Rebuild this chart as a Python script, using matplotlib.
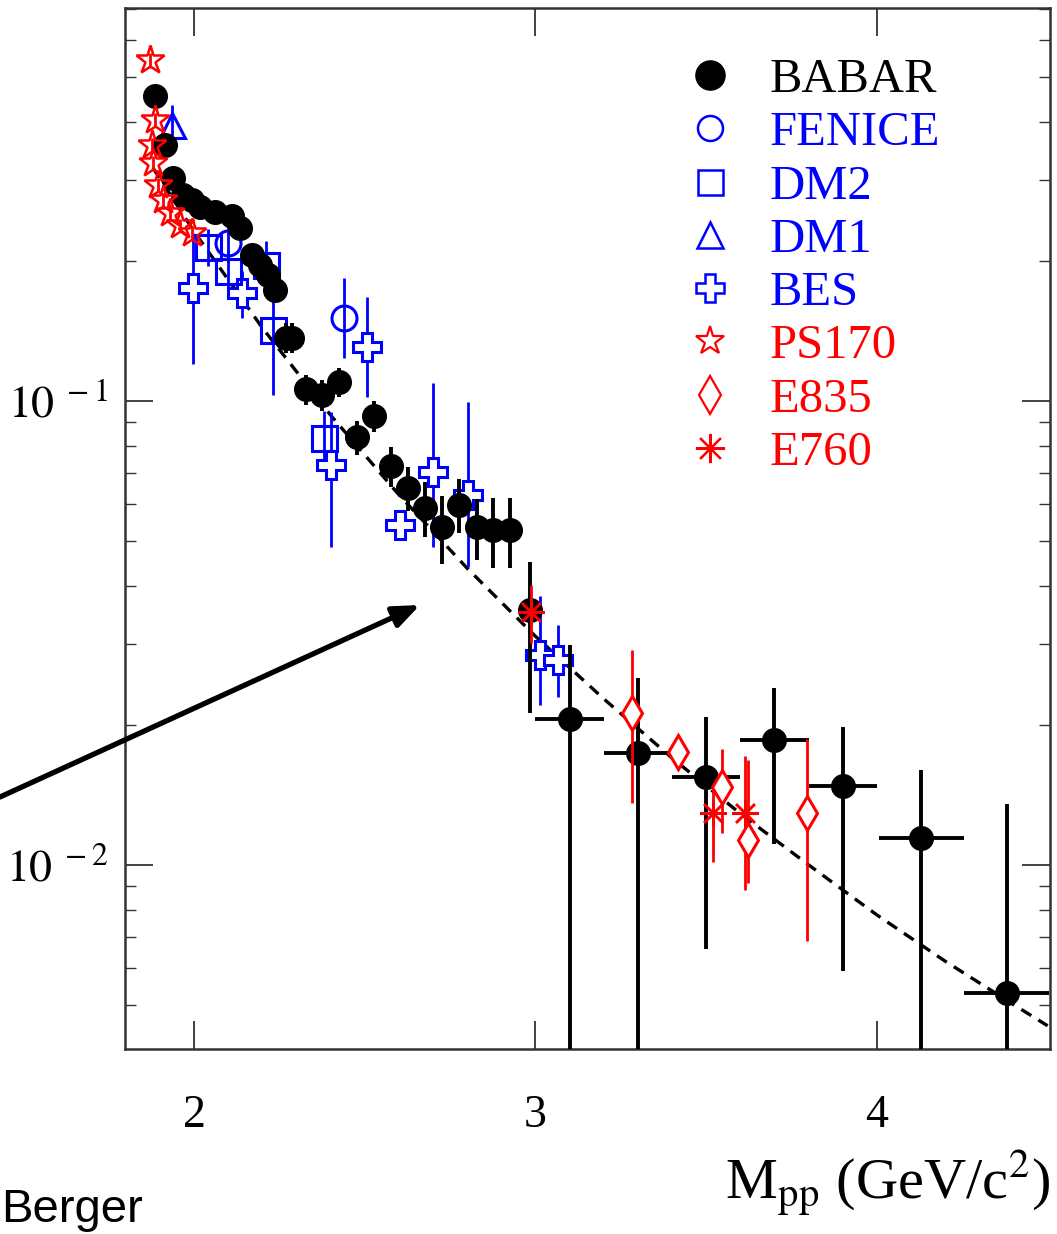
import matplotlib
matplotlib.use("Agg")
import matplotlib.pyplot as plt
from matplotlib.lines import Line2D
import numpy as np

# ---------------- data ----------------
babar_x = [1.886, 1.915, 1.939, 1.968, 1.994, 2.018, 2.061, 2.111, 2.135, 2.170,
           2.193, 2.217, 2.237, 2.269, 2.287, 2.328, 2.375, 2.425, 2.477, 2.527,
           2.577, 2.627, 2.676, 2.726, 2.776, 2.829, 2.876, 2.925, 2.984,
           3.10, 3.30, 3.50, 3.70, 3.90, 4.13, 4.38]
babar_y = [0.454, 0.356, 0.303, 0.278, 0.271, 0.262, 0.255, 0.250, 0.236, 0.206,
           0.196, 0.187, 0.173, 0.137, 0.137, 0.106, 0.103, 0.110, 0.0836, 0.0929,
           0.0724, 0.0650, 0.0588, 0.0535, 0.0598, 0.0535, 0.0527, 0.0527, 0.0355,
           0.0206, 0.0174, 0.0155, 0.0186, 0.0148, 0.0114, 0.0053]
babar_lo = [0.015, 0.012, 0.010, 0.009, 0.009, 0.009, 0.009, 0.010, 0.010, 0.010,
            0.010, 0.010, 0.010, 0.010, 0.010, 0.008, 0.008, 0.008, 0.007, 0.007,
            0.007, 0.007, 0.008, 0.009, 0.008, 0.008, 0.009, 0.009, 0.0142,
            0.0196, 0.0164, 0.0089, 0.0075, 0.0089, 0.0104, 0.0048]
babar_hi = [0.015, 0.012, 0.010, 0.009, 0.009, 0.009, 0.009, 0.010, 0.010, 0.010,
            0.010, 0.010, 0.010, 0.010, 0.010, 0.008, 0.008, 0.008, 0.007, 0.007,
            0.007, 0.007, 0.008, 0.009, 0.008, 0.008, 0.009, 0.009, 0.0095,
            0.0092, 0.0079, 0.0053, 0.0054, 0.0050, 0.0046, 0.0082]
babar_xerr = [0.0] * 29 + [0.1, 0.1, 0.1, 0.1, 0.1, 0.125, 0.125]

fenice_x = [2.10, 2.44]
fenice_y = [0.219, 0.151]
fenice_lo = [0.02, 0.027]
fenice_hi = [0.02, 0.033]

dm2_x = [2.04, 2.10, 2.21, 2.23, 2.38]
dm2_y = [0.215, 0.191, 0.196, 0.142, 0.0832]
dm2_lo = [0.02, 0.02, 0.025, 0.039, 0.012]
dm2_hi = [0.02, 0.02, 0.025, 0.040, 0.012]

dm1_x = [1.936]
dm1_y = [0.394]
dm1_lo = [0.03]
dm1_hi = [0.04]

bes_x = [1.997, 2.141, 2.40, 2.507, 2.603, 2.700, 2.802, 3.013, 3.066]
bes_y = [0.175, 0.171, 0.0728, 0.1306, 0.0541, 0.0703, 0.0626, 0.0284, 0.0277]
bes_lo = [0.055, 0.020, 0.0244, 0.0286, 0.004, 0.0219, 0.0187, 0.0063, 0.0047]
bes_hi = [0.055, 0.020, 0.0220, 0.0370, 0.004, 0.0390, 0.0370, 0.0095, 0.0052]

ps170_x = [1.871, 1.877, 1.880, 1.886, 1.895, 1.909, 1.930, 1.959, 1.994]
ps170_y = [0.543, 0.357, 0.326, 0.404, 0.292, 0.271, 0.254, 0.239, 0.230]
ps170_lo = [0.02, 0.012, 0.011, 0.014, 0.010, 0.009, 0.009, 0.008, 0.008]
ps170_hi = [0.02, 0.012, 0.011, 0.014, 0.010, 0.009, 0.009, 0.008, 0.008]

e835_x = [3.283, 3.417, 3.546, 3.622, 3.795]
e835_y = [0.0213, 0.01754, 0.01473, 0.01132, 0.01294]
e835_lo = [0.0077, 0.0015, 0.0030, 0.0022, 0.0061]
e835_hi = [0.0077, 0.0015, 0.0030, 0.0055, 0.0057]

e760_x = [2.987, 3.520, 3.613]
e760_y = [0.0351, 0.01294, 0.01294]
e760_lo = [0.005, 0.0028, 0.0041]
e760_hi = [0.005, 0.0018, 0.0042]

fit_x = [1.88, 2.0, 2.2, 2.4, 2.6, 2.8, 3.0, 3.2, 3.4, 3.6, 3.8, 4.0, 4.2, 4.4, 4.5]
fit_y = [0.318, 0.232, 0.1438, 0.0932, 0.0628, 0.0436, 0.0311, 0.0228, 0.0170,
         0.0129, 0.0100, 0.0078, 0.0062, 0.0050, 0.0045]

legend_labels = ["BABAR", "FENICE", "DM2", "DM1", "BES", "PS170", "E835", "E760"]
xtick_vals = [2, 3, 4]
xtick_labels = ["2", "3", "4"]
ytick_vals = [0.01, 0.1]
ytick_labels = [r"$10^{\ -2}$", r"$10^{\ -1}$"]

# ---------------- style ----------------
plt.rcParams["font.family"] = ["Liberation Serif", "DejaVu Serif"]
plt.rcParams["mathtext.fontset"] = "stix"

W, H = 1057, 1234
fig = plt.figure(figsize=(W / 100, H / 100), dpi=100)
ax = fig.add_axes([125 / W, 1 - 1049 / H, 925 / W, 1041 / H])
ax.set_yscale("log")
ax.set_xlim(1.798, 4.507)
ax.set_ylim(0.00401, 0.703)

BLUE = "#0000ff"
RED = "#ff0000"

def series(x, y, lo, hi, marker, color, ms, mfc, xerr=None, elw=2.0, mew=2.2, z=3):
    ax.errorbar(x, y, yerr=[lo, hi], xerr=xerr, fmt="none", ecolor=color,
                elinewidth=elw, capsize=0, zorder=z)
    ax.plot(x, y, ls="none", marker=marker, ms=ms, mfc=mfc, mec=color, mew=mew,
            zorder=z + 0.5)

# fit curve
ax.plot(fit_x, fit_y, ls=(0, (3.5, 2.5)), color="black", lw=2.4, zorder=2)

series(bes_x, bes_y, bes_lo, bes_hi, "P", BLUE, 20, "white")
series(dm2_x, dm2_y, dm2_lo, dm2_hi, "s", BLUE, 18, "none")
series(dm1_x, dm1_y, dm1_lo, dm1_hi, "^", BLUE, 18, "none")
series(fenice_x, fenice_y, fenice_lo, fenice_hi, "o", BLUE, 18, "none")
series(babar_x, babar_y, babar_lo, babar_hi, "o", "black", 17, "black",
       xerr=babar_xerr, elw=2.8, mew=1.0, z=4)
series(ps170_x, ps170_y, ps170_lo, ps170_hi, "*", RED, 21, "none", mew=1.8, z=5)
series(e835_x, e835_y, e835_lo, e835_hi, "d", RED, 17, "white", z=5)
series(e760_x, e760_y, e760_lo, e760_hi, (8, 2, 0), RED, 19, RED, mew=1.8, z=5)

# axes styling
for s in ax.spines.values():
    s.set_linewidth(1.8)
    s.set_color("#333333")
ax.set_xticks(xtick_vals)
ax.set_xticklabels(xtick_labels)
ax.set_yticks(ytick_vals)
ax.set_yticklabels(ytick_labels)
ax.tick_params(which="both", direction="in", top=True, right=True, colors="#333333",
               labelcolor="black")
ax.tick_params(which="major", length=20, width=1.3, labelsize=33, pad=12)
ax.tick_params(which="minor", length=8, width=1.0, labelleft=False, labelbottom=False)
ax.tick_params(axis="x", which="major", pad=33)

ax.set_xlabel(r"M$_{\mathrm{pp}}$ (GeV/c$^{2}$)", fontsize=42, loc="right", labelpad=8)

# legend
handles = [
    Line2D([], [], ls="none", marker="o", ms=21, mfc="black", mec="black"),
    Line2D([], [], ls="none", marker="o", ms=18, mfc="none", mec=BLUE, mew=1.8),
    Line2D([], [], ls="none", marker="s", ms=18, mfc="none", mec=BLUE, mew=1.8),
    Line2D([], [], ls="none", marker="^", ms=19, mfc="none", mec=BLUE, mew=1.8),
    Line2D([], [], ls="none", marker="P", ms=20, mfc="none", mec=BLUE, mew=1.8),
    Line2D([], [], ls="none", marker="*", ms=21, mfc="none", mec=RED, mew=1.6),
    Line2D([], [], ls="none", marker="d", ms=19, mfc="none", mec=RED, mew=1.6),
    Line2D([], [], ls="none", marker=(8, 2, 0), ms=21, mfc=RED, mec=RED, mew=1.6),
]
leg = ax.legend(handles, legend_labels, loc="upper left",
                bbox_to_anchor=((686 - 125) / 925, (1049 - 58) / 1041),
                frameon=False, fontsize=35, handlelength=1.0, handletextpad=0.72,
                labelspacing=0.19, borderpad=0, borderaxespad=0,
                labelcolor="markeredgecolor")

# arrow and side text
ax.annotate("", xy=(420, H - 605), xycoords="figure pixels",
            xytext=(0, H - 797), textcoords="figure pixels",
            arrowprops=dict(arrowstyle="-|>,head_length=1.6,head_width=0.65",
                            color="black", lw=3.8, shrinkA=0, shrinkB=0),
            annotation_clip=False)
fig.text(1 / W, 12 / H, "Berger", fontsize=34,
         family=["Liberation Sans", "DejaVu Sans"], ha="left", va="baseline")

fig.savefig("out.png", dpi=100, facecolor="white")
